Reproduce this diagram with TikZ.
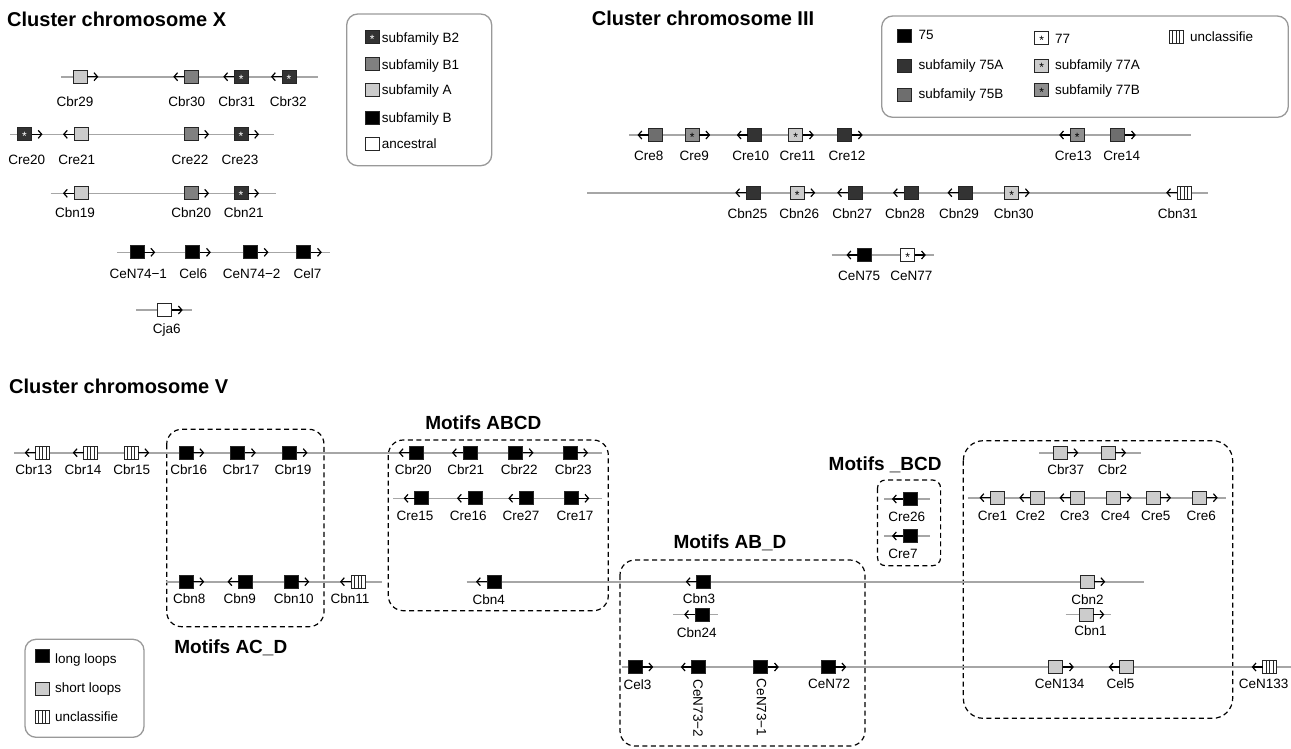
\documentclass[tikz,border=0pt]{standalone}
\usepackage{fontspec}
\setmainfont{Liberation Sans}
\usetikzlibrary{arrows.meta}
\definecolor{cdk}{HTML}{333333}
\definecolor{cmd}{HTML}{808080}
\definecolor{cmdb}{HTML}{6E6E6E}
\definecolor{cmdc}{HTML}{8F8F8F}
\definecolor{clt}{HTML}{CCCCCC}
\definecolor{cline}{HTML}{A6A6A6}
\definecolor{cleg}{HTML}{999999}
\newcommand{\gnn}[5]{%
  \node[#4] (#1) at (#2,#3) {};
  \ifx r#5 \draw[garrow] (#1.east) -- ++(11,0);\fi
  \ifx l#5 \draw[garrow] (#1.west) -- ++(-11,0);\fi}
\newcommand{\gn}[8]{%
  \gnn{#1}{#2}{#3}{#4}{#5}%
  \node[lbl] (#1-l) at (#6,#7) {#8};}
\tikzset{
  gene/.style={draw=black!85, line width=1pt, minimum width=14pt, minimum height=13pt, inner sep=0pt, outer sep=0pt},
  starw/.style={text=white, font=\fontsize{12}{12}\selectfont, inner sep=0pt, yshift=-2.2pt},
  starb/.style={text=black, font=\fontsize{12}{12}\selectfont, inner sep=0pt, yshift=-2.2pt},
  gB2/.style={gene, fill=cdk, label={[starw]center:*}},
  gB1/.style={gene, fill=cmd},
  gA/.style={gene, fill=clt},
  gB/.style={gene, fill=black},
  gAnc/.style={gene, fill=white},
  g75/.style={gene, fill=black},
  g75A/.style={gene, fill=cdk},
  g75B/.style={gene, fill=cmdb},
  g77/.style={gene, fill=white, label={[starb]center:*}},
  g77A/.style={gene, fill=clt, label={[starb]center:*}},
  g77B/.style={gene, fill=cmdc, label={[starb]center:*}},
  gS/.style={gene, fill=clt},
  gU/.style={gene, fill=white, path picture={
      \foreach \i in {1,2,3}{\draw[line width=0.9pt] ([xshift=\i*3.5pt]path picture bounding box.north west) -- ([xshift=\i*3.5pt]path picture bounding box.south west);}}},
  garrow/.style={line width=1.2pt, -{Straight Barb[length=3.5pt,width=8pt]}},
  chrom/.style={draw=cline, line width=1.6pt},
  lbl/.style={font=\fontsize{13.5}{14}\selectfont, inner sep=0pt, text height=9.7pt, text depth=0pt},
  legtxt/.style={font=\fontsize{13.5}{14}\selectfont, inner sep=0pt, text height=9.7pt, text depth=0pt, anchor=west},
  ttl/.style={font=\bfseries\fontsize{20}{22}\selectfont, inner sep=0pt, text height=14.3pt, text depth=0pt, anchor=west},
  motif/.style={font=\bfseries\fontsize{19}{21}\selectfont, inner sep=0pt, text height=13.6pt, text depth=0pt},
  legbox/.style={draw=cleg, line width=1.3pt, rounded corners=11pt},
  dbox/.style={draw=black, line width=1.2pt, dash pattern=on 5pt off 3.5pt, rounded corners=15pt},
}
\begin{document}
\begin{tikzpicture}[x=1pt,y=-1pt]
\useasboundingbox (0,0) rectangle (1291,748);
% ---------------- titles
\node[ttl] (tX) at (7,19) {Cluster chromosome X};
\node[ttl] (tIII) at (591.7,18.3) {Cluster chromosome III};
\node[ttl] (tV) at (9,386) {Cluster chromosome V};
% ---------------- legends
\draw[legbox] (346.7,14) rectangle (491.7,165.7);
\node[gB2] (lgB2) at (372.3,36.7) {};  \node[legtxt] (lgB2t) at (381.7,37.5) {subfamily B2};
\node[gB1] (lgB1) at (372.3,64.2) {};  \node[legtxt] (lgB1t) at (381.7,65) {subfamily B1};
\node[gA] (lgA) at (372.3,90.2) {};    \node[legtxt] (lgAt) at (381.7,90) {subfamily A};
\node[gB] (lgB) at (372.3,117.5) {};   \node[legtxt] (lgBt) at (381.7,117.3) {subfamily B};
\node[gAnc] (lgAnc) at (372.3,143.5) {}; \node[legtxt] (lgAnct) at (381.7,143.3) {ancestral};

\draw[legbox] (881.7,16) rectangle (1288.3,117.3);
\node[g75] (lg75) at (904.2,36.3) {};   \node[legtxt] (lg75t) at (918.3,35) {75};
\node[g75A] (lg75A) at (904.2,66.2) {}; \node[legtxt] (lg75At) at (918.3,64.3) {subfamily 75A};
\node[g75B] (lg75B) at (904.2,95) {};   \node[legtxt] (lg75Bt) at (918.3,94) {subfamily 75B};
\node[g77] (lg77) at (1041.7,38.3) {};  \node[legtxt] (lg77t) at (1055,39) {77};
\node[g77A] (lg77A) at (1041.7,65.5) {}; \node[legtxt] (lg77At) at (1055,64.3) {subfamily 77A};
\node[g77B] (lg77B) at (1041.7,89.7) {}; \node[legtxt] (lg77Bt) at (1055,90) {subfamily 77B};
\node[gU] (lgU) at (1176.3,37.2) {};    \node[legtxt] (lgUt) at (1190,36.7) {unclassifie};

\draw[legbox] (25,639.3) rectangle (144,737.3);
\node[gB] (lgL) at (42.2,656.3) {};   \node[legtxt] (lgLt) at (55,658.3) {long loops};
\node[gS] (lgS) at (42.2,688.8) {};   \node[legtxt] (lgSt) at (55,687.3) {short loops};
\node[gU] (lgU2) at (42.2,716.7) {};  \node[legtxt] (lgU2t) at (55,716.7) {unclassifie};
% ---------------- chromosome X
\coordinate (x1a) at (61,76.7);   \coordinate (x1b) at (318,76.7);
\coordinate (x2a) at (10,134.3);  \coordinate (x2b) at (274,134.3);
\coordinate (x3a) at (50.7,193.3); \coordinate (x3b) at (276,193.3);
\coordinate (x4a) at (117,252.3); \coordinate (x4b) at (330,252.3);
\coordinate (x5a) at (136,310);   \coordinate (x5b) at (191.7,310);
\foreach \a/\b in {x1a/x1b,x2a/x2b,x3a/x3b,x4a/x4b,x5a/x5b} \draw[chrom] (\a) -- (\b);
\gn{Cbr29}{80.3}{76.7}{gA}{r}{75}{101.7}{Cbr29}
\gn{Cbr30}{191.3}{76.7}{gB1}{l}{186.7}{101.7}{Cbr30}
\gn{Cbr31}{241.3}{76.7}{gB2}{l}{236.7}{101.7}{Cbr31}
\gn{Cbr32}{289}{76.7}{gB2}{l}{288.3}{101.7}{Cbr32}
\gn{Cre20}{24.5}{134.3}{gB2}{r}{26.7}{159.3}{Cre20}
\gn{Cre21}{81}{134.3}{gA}{l}{76.7}{159.3}{Cre21}
\gn{Cre22}{191}{134.3}{gB1}{r}{190}{159.3}{Cre22}
\gn{Cre23}{241}{134.3}{gB2}{r}{240}{159.3}{Cre23}
\gn{Cbn19}{81}{193.3}{gA}{l}{75}{212.5}{Cbn19}
\gn{Cbn20}{191}{193.3}{gB1}{r}{191.3}{212.5}{Cbn20}
\gn{Cbn21}{241}{193.3}{gB2}{r}{243.7}{212.5}{Cbn21}
\gn{CeN74-1}{137.2}{252.3}{gB}{r}{138.3}{273.3}{CeN74−1}
\gn{Cel6}{192.8}{252.3}{gB}{r}{193.3}{273.3}{Cel6}
\gn{CeN74-2}{250.5}{252.3}{gB}{r}{251.7}{273.3}{CeN74−2}
\gn{Cel7}{303.8}{252.3}{gB}{r}{307.5}{273.3}{Cel7}
\gn{Cja6}{164.7}{310}{gAnc}{r}{166.7}{328.3}{Cja6}
% ---------------- chromosome III
\coordinate (t1a) at (629.3,135);   \coordinate (t1b) at (1191,135);
\coordinate (t2a) at (587.3,192.7); \coordinate (t2b) at (1207.7,192.7);
\coordinate (t3a) at (831.7,255);   \coordinate (t3b) at (934,255);
\foreach \a/\b in {t1a/t1b,t2a/t2b,t3a/t3b} \draw[chrom] (\a) -- (\b);
\gn{Cre8}{655.5}{135}{g75B}{l}{648.8}{155.7}{Cre8}
\gn{Cre9}{692.2}{135}{g77B}{r}{694.3}{155.7}{Cre9}
\gn{Cre10}{754.8}{135}{g75A}{l}{750.8}{155.7}{Cre10}
\gn{Cre11}{795.8}{135}{g77A}{r}{797.5}{155.7}{Cre11}
\gn{Cre12}{844.7}{135}{g75A}{r}{847}{155.7}{Cre12}
\gn{Cre13}{1077.2}{135}{g77B}{l}{1073.3}{155.7}{Cre13}
\gn{Cre14}{1117.8}{135}{g75B}{r}{1121.7}{155.7}{Cre14}
\gn{Cbn25}{753.3}{192.7}{g75A}{l}{747.5}{213.3}{Cbn25}
\gn{Cbn26}{797.2}{192.7}{g77A}{r}{799.3}{213.3}{Cbn26}
\gn{Cbn27}{855.2}{192.7}{g75A}{l}{852.3}{213.3}{Cbn27}
\gn{Cbn28}{911}{192.7}{g75A}{l}{905}{213.3}{Cbn28}
\gn{Cbn29}{965.5}{192.7}{g75A}{l}{959}{213.3}{Cbn29}
\gn{Cbn30}{1011.7}{192.7}{g77A}{r}{1013.8}{213.3}{Cbn30}
\gn{Cbn31}{1184.2}{192.7}{gU}{l}{1177.8}{213.3}{Cbn31}
\gn{CeN75}{864.5}{255}{g75}{l}{859.2}{276}{CeN75}
\gn{CeN77}{907.8}{255}{g77}{r}{911.3}{276}{CeN77}
% ---------------- chromosome V
\draw[dbox] (166.7,429.3) rectangle (324,626.7);
\draw[dbox] (388.3,440) rectangle (608.3,610.7);
\draw[dbox] (620,560) rectangle (865,746);
\draw[dbox, rounded corners=8pt] (877.5,480) rectangle (940.6,565.7);
\draw[dbox, rounded corners=20pt] (963.3,440.7) rectangle (1232.7,718.3);
\node[motif] (mABCD) at (483.3,422.7) {Motifs ABCD};
\node[motif] (mACD) at (230.8,646.7) {Motifs AC\_D};
\node[motif] (mABD) at (730,541.7) {Motifs AB\_D};
\node[motif] (mBCD) at (885.2,463.3) {Motifs \_BCD};
\coordinate (v1a) at (14,452.7);     \coordinate (v1b) at (601.7,452.7);
\coordinate (v2a) at (393.3,498.3);  \coordinate (v2b) at (601.7,498.3);
\coordinate (v3a) at (165.7,581.7);  \coordinate (v3b) at (381.7,581.7);
\coordinate (v4a) at (466.7,581.7);  \coordinate (v4b) at (1144.3,581.7);
\coordinate (v5a) at (673.3,614.5);  \coordinate (v5b) at (718.3,614.5);
\coordinate (v6a) at (621.7,667);    \coordinate (v6b) at (1291,667);
\coordinate (v7a) at (884.4,499);    \coordinate (v7b) at (930,499);
\coordinate (v8a) at (884.4,536);    \coordinate (v8b) at (930,536);
\coordinate (v9a) at (1039,452.7);   \coordinate (v9b) at (1141,452.7);
\coordinate (v10a) at (968.3,497.7); \coordinate (v10b) at (1226,497.7);
\coordinate (v11a) at (1065.7,614.5); \coordinate (v11b) at (1110.7,614.5);
\foreach \a/\b in {v1a/v1b,v2a/v2b,v3a/v3b,v4a/v4b,v5a/v5b,v6a/v6b,v7a/v7b,v8a/v8b,v9a/v9b,v10a/v10b,v11a/v11b} \draw[chrom] (\a) -- (\b);
\gn{Cbr13}{42.8}{452.7}{gU}{l}{33.8}{470}{Cbr13}
\gn{Cbr14}{90.8}{452.7}{gU}{l}{83}{470}{Cbr14}
\gn{Cbr15}{131.2}{452.7}{gU}{r}{131.7}{470}{Cbr15}
\gn{Cbr16}{186.2}{452.7}{gB}{r}{188.7}{470}{Cbr16}
\gn{Cbr17}{237.8}{452.7}{gB}{r}{241}{470}{Cbr17}
\gn{Cbr19}{289.5}{452.7}{gB}{r}{293}{470}{Cbr19}
\gn{Cbr20}{416.8}{452.7}{gB}{l}{413.3}{470}{Cbr20}
\gn{Cbr21}{470}{452.7}{gB}{l}{465.8}{470}{Cbr21}
\gn{Cbr22}{515.5}{452.7}{gB}{r}{519.2}{470}{Cbr22}
\gn{Cbr23}{570}{452.7}{gB}{r}{573.3}{470}{Cbr23}
\gn{Cre15}{421.7}{498.3}{gB}{l}{415}{515.7}{Cre15}
\gn{Cre16}{475}{498.3}{gB}{l}{468.3}{515.7}{Cre16}
\gn{Cre27}{526.3}{498.3}{gB}{l}{521}{515.7}{Cre27}
\gn{Cre17}{571.3}{498.3}{gB}{r}{575}{515.7}{Cre17}
\gn{Cbn8}{186.2}{581.7}{gB}{r}{189.2}{599}{Cbn8}
\gn{Cbn9}{245.5}{581.7}{gB}{l}{239.7}{599}{Cbn9}
\gn{Cbn10}{291.2}{581.7}{gB}{r}{293.7}{599}{Cbn10}
\gn{Cbn11}{358}{581.7}{gU}{l}{350}{599}{Cbn11}
\gn{Cbn4}{494}{581.7}{gB}{l}{488.8}{599.3}{Cbn4}
\gn{Cbn3}{703.8}{581.7}{gB}{l}{699}{599}{Cbn3}
\gn{Cbn24}{702.2}{614.5}{gB}{l}{696.7}{632.5}{Cbn24}
\gn{Cel3}{635.2}{667}{gB}{r}{637.5}{685}{Cel3}
\gnn{CeN73-2}{698.8}{667}{gB}{l}
\node[lbl, rotate=-90] (CeN73-2-l) at (698.3,708.3) {CeN73−2};
\gnn{CeN73-1}{760.8}{667}{gB}{r}
\node[lbl, rotate=-90] (CeN73-1-l) at (761.7,707.5) {CeN73−1};
\gn{CeN72}{828.2}{667}{gB}{r}{829.2}{683.3}{CeN72}
\gn{Cre26}{910}{499}{gB}{l}{906.8}{516.7}{Cre26}
\gn{Cre7}{910}{536}{gB}{l}{903}{554}{Cre7}
\gn{Cbr37}{1060.3}{452.7}{gS}{r}{1065.8}{470}{Cbr37}
\gn{Cbr2}{1108}{452.7}{gS}{r}{1112.5}{470}{Cbr2}
\gn{Cre1}{997.5}{497.7}{gS}{l}{992.5}{515.7}{Cre1}
\gn{Cre2}{1037.3}{497.7}{gS}{l}{1030.5}{515.7}{Cre2}
\gn{Cre3}{1077.5}{497.7}{gS}{l}{1074.7}{515.7}{Cre3}
\gn{Cre4}{1113.7}{497.7}{gS}{r}{1115.5}{515.7}{Cre4}
\gn{Cre5}{1153}{497.7}{gS}{r}{1155.8}{515.7}{Cre5}
\gn{Cre6}{1199.7}{497.7}{gS}{r}{1201.3}{515.7}{Cre6}
\gn{Cbn2}{1087.2}{581.7}{gS}{r}{1087.5}{599.3}{Cbn2}
\gn{Cbn1}{1086.3}{614.5}{gS}{r}{1090.5}{630.5}{Cbn1}
\gn{CeN134}{1055.8}{667}{gS}{r}{1059.7}{683.3}{CeN134}
\gn{Cel5}{1126.7}{667}{gS}{l}{1120.5}{683.3}{Cel5}
\gn{CeN133}{1269.7}{667}{gU}{l}{1263.7}{683.3}{CeN133}
\end{tikzpicture}
\end{document}
